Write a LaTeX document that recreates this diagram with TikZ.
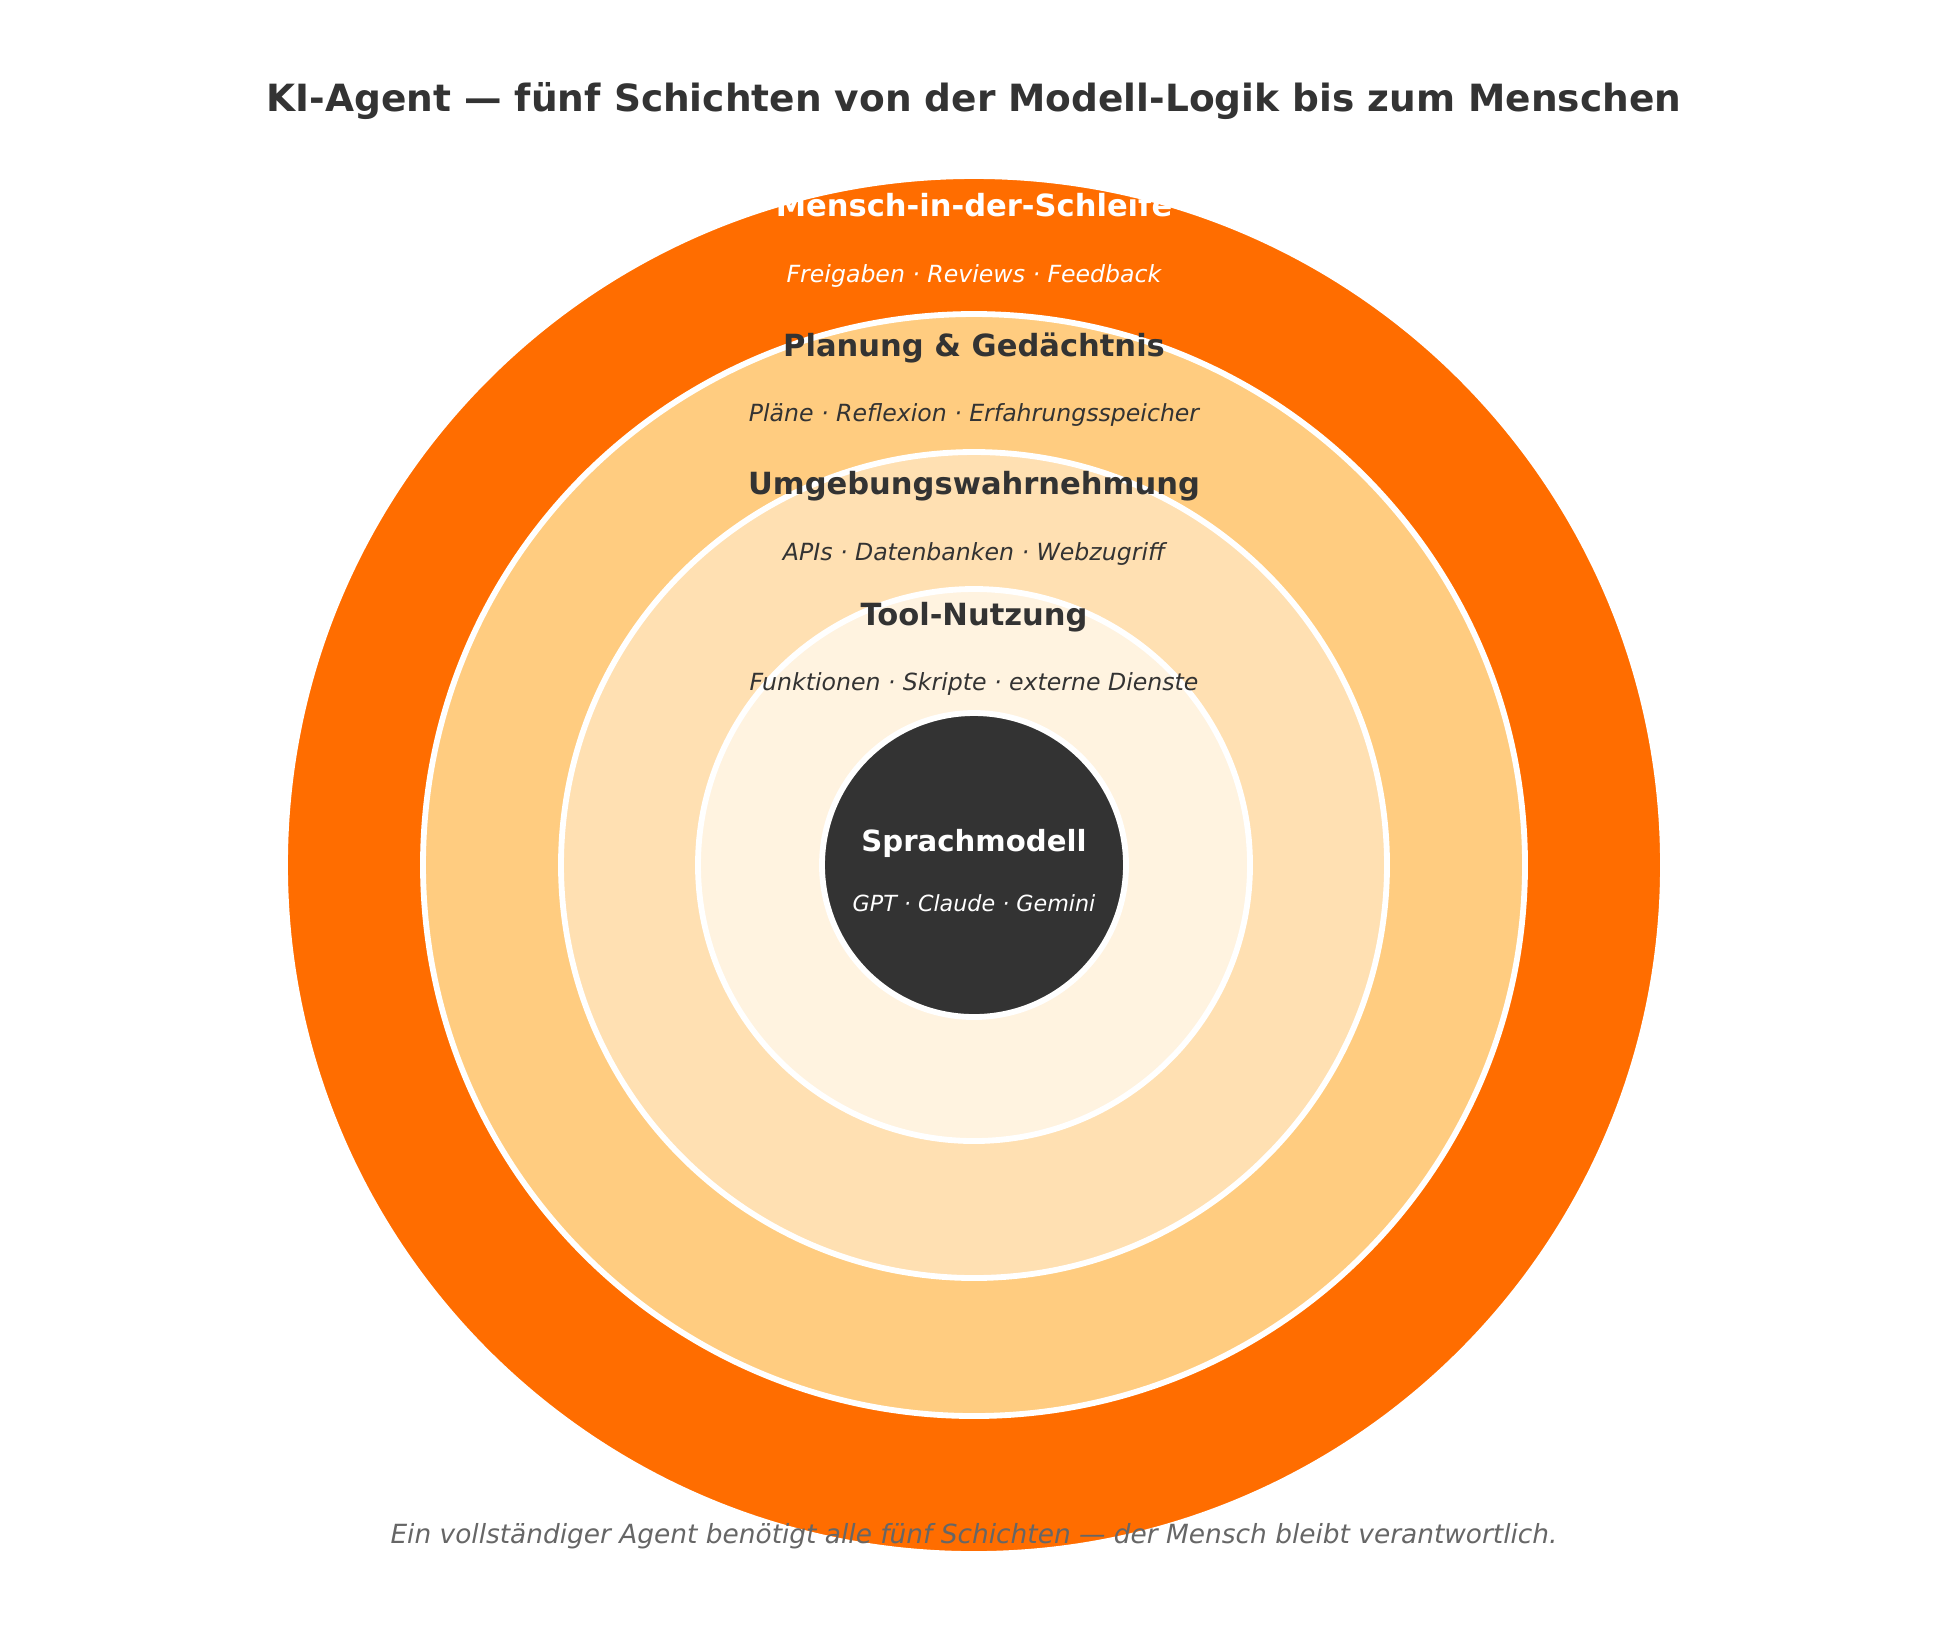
\documentclass[tikz,border=0pt]{standalone}
\usepackage{fontspec}
\setmainfont{DejaVu Sans}
\definecolor{ringA}{HTML}{FF6D00}
\definecolor{ringB}{HTML}{FFCC80}
\definecolor{ringC}{HTML}{FFE0B2}
\definecolor{ringD}{HTML}{FFF3E0}
\definecolor{coreC}{HTML}{333333}
\definecolor{darkT}{HTML}{333333}
\definecolor{footT}{HTML}{666666}
\begin{document}
\begin{tikzpicture}[x=0.36pt,y=-0.36pt,
  ring/.style={draw=white,line width=2.1pt},
  lname/.style={font=\bfseries\fontsize{11}{13}\selectfont,inner sep=0pt,anchor=base},
  lsub/.style={font=\itshape\fontsize{8.5}{10}\selectfont,inner sep=0pt,anchor=base},
  cname/.style={font=\bfseries\fontsize{10.5}{12}\selectfont,inner sep=0pt,anchor=base},
  csub/.style={font=\itshape\fontsize{8}{10}\selectfont,inner sep=0pt,anchor=base}]
\useasboundingbox (0,0) rectangle (1948,1640);
\coordinate (c) at (974,865);
\filldraw[ring,fill=ringA] (c) circle[radius=689*0.36pt];
\filldraw[ring,fill=ringB] (c) circle[radius=551*0.36pt];
\filldraw[ring,fill=ringC] (c) circle[radius=413*0.36pt];
\filldraw[ring,fill=ringD] (c) circle[radius=276*0.36pt];
\filldraw[ring,fill=coreC] (c) circle[radius=152*0.36pt];
\node[font=\bfseries\fontsize{13.5}{16}\selectfont,text=darkT,inner sep=0pt,anchor=base] (title) at (974,111.5) {KI-Agent — fünf Schichten von der Modell-Logik bis zum Menschen};
\node[lname,text=white] (n1) at (974,216.5) {Mensch-in-der-Schleife};
\node[lsub,text=white] (s1) at (974,282) {Freigaben · Reviews · Feedback};
\node[lname,text=darkT] (n2) at (974,356) {Planung \& Gedächtnis};
\node[lsub,text=darkT] (s2) at (974,421.5) {Pläne · Reflexion · Erfahrungsspeicher};
\node[lname,text=darkT] (n3) at (974,494.5) {Umgebungswahrnehmung};
\node[lsub,text=darkT] (s3) at (974,560) {APIs · Datenbanken · Webzugriff};
\node[lname,text=darkT] (n4) at (974,625) {Tool-Nutzung};
\node[lsub,text=darkT] (s4) at (974,690.5) {Funktionen · Skripte · externe Dienste};
\node[cname,text=white] (n5) at (974,851.5) {Sprachmodell};
\node[csub,text=white] (s5) at (974,911) {GPT · Claude · Gemini};
\node[font=\itshape\fontsize{9.5}{11}\selectfont,text=footT,inner sep=0pt,anchor=base] (foot) at (974,1543) {Ein vollständiger Agent benötigt alle fünf Schichten — der Mensch bleibt verantwortlich.};
\end{tikzpicture}
\end{document}
